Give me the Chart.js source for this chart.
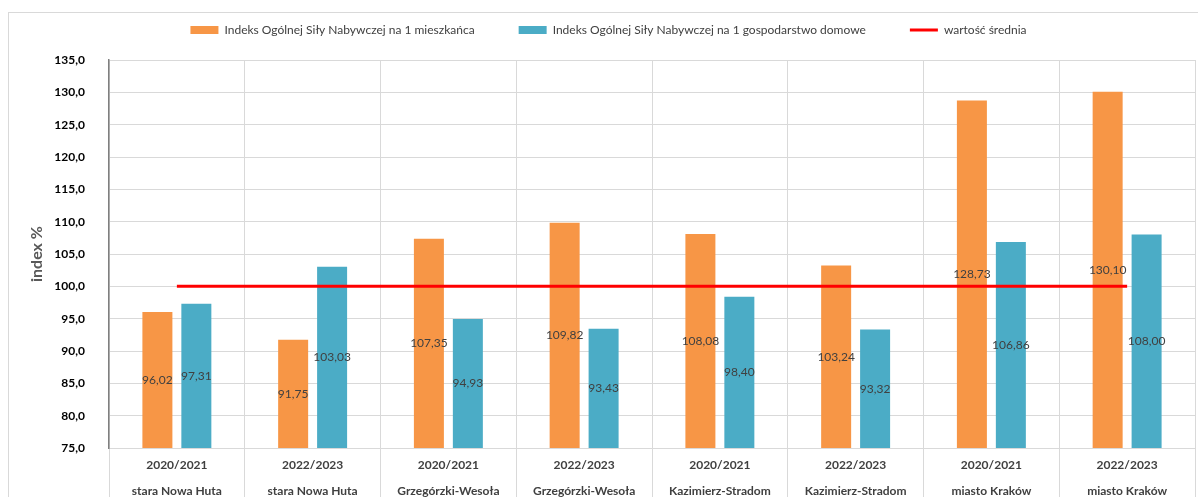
<!DOCTYPE html>
<html lang="pl">
<head>
<meta charset="utf-8">
<title>Indeks Ogólnej Siły Nabywczej</title>
<script src="https://cdn.jsdelivr.net/npm/chart.js@4.4.1/dist/chart.umd.min.js"></script>
<style>
  html, body { margin: 0; padding: 0; background: #fff; }
  .frame {
    position: absolute; left: 8px; top: 12px;
    width: 1200px; height: 500px;
    border: 1px solid #d9d9d9;
  }
  #myChart { position: absolute; left: 0; top: 0; }
</style>
</head>
<body>
<div class="frame"></div>
<canvas id="myChart" width="1198" height="497"></canvas>
<script>
const years = ["2020/2021", "2022/2023", "2020/2021", "2022/2023", "2020/2021", "2022/2023", "2020/2021", "2022/2023"];
const areas = ["stara Nowa Huta", "stara Nowa Huta", "Grzegórzki-Wesoła", "Grzegórzki-Wesoła",
               "Kazimierz-Stradom", "Kazimierz-Stradom", "miasto Kraków", "miasto Kraków"];
const perResident = [96.02, 91.75, 107.35, 109.82, 108.08, 103.24, 128.73, 130.10];
const perHousehold = [97.31, 103.03, 94.93, 93.43, 98.40, 93.32, 106.86, 108.00];
const average = [100, 100, 100, 100, 100, 100, 100, 100];

const fmt = (v, d) => v.toFixed(d).replace('.', ',');
const FONT = "Lato, 'Open Sans', sans-serif";

// value labels in the middle of the visible part of every bar
const barLabels = {
    id: 'barLabels',
    afterDatasetsDraw(chart) {
        const ctx = chart.ctx;
        const bottom = chart.chartArea.bottom;
        ctx.save();
        ctx.font = "12px " + FONT;
        ctx.fillStyle = "#404040";
        ctx.textAlign = "center";
        ctx.textBaseline = "middle";
        chart.data.datasets.forEach((ds, i) => {
            const meta = chart.getDatasetMeta(i);
            if (meta.type !== 'bar') return;
            meta.data.forEach((bar, j) => {
                const base = Math.min(bar.base, bottom);
                ctx.fillText(fmt(ds.data[j], 2), bar.x, (bar.y + base) / 2);
            });
        });
        ctx.restore();
    }
};

// extra room between the legend and the plot, legend nudged right a bit
const legendGap = {
    id: 'legendGap',
    beforeInit(chart) {
        const fit = chart.legend.fit;
        chart.legend.fit = function () {
            fit.call(this);
            this.height += 14;
        };
    },
    afterLayout(chart) {
        chart.legend.left += 11;
        chart.legend.right += 11;
    }
};

const data = {
    labels: years.map((y, i) => [y, areas[i]]),
    datasets: [
        {
            type: 'bar',
            label: "Indeks Ogólnej Siły Nabywczej na 1 mieszkańca",
            data: perResident,
            backgroundColor: "#F79646",
            pointStyle: 'rect',
            categoryPercentage: 0.574,
            barPercentage: 0.77,
            order: 1
        },
        {
            type: 'bar',
            label: "Indeks Ogólnej Siły Nabywczej na 1 gospodarstwo domowe",
            data: perHousehold,
            backgroundColor: "#4BACC6",
            pointStyle: 'rect',
            categoryPercentage: 0.574,
            barPercentage: 0.77,
            order: 1
        },
        {
            type: 'line',
            label: "wartość średnia",
            data: average,
            borderColor: "#FF0000",
            backgroundColor: "#FF0000",
            borderWidth: 3,
            pointRadius: 0,
            pointStyle: 'line',
            order: 0
        }
    ]
};

const config = {
    type: 'bar',
    data,
    options: {
        responsive: false,
        animation: false,
        layout: { padding: { top: -20, right: 3, left: 0, bottom: 0 } },
        plugins: {
            legend: {
                labels: {
                    usePointStyle: true,
                    pointStyleWidth: 28,
                    boxHeight: 8,
                    padding: 44,
                    color: "#404040",
                    font: { family: FONT, size: 12 },
                    sort: (a, b) => a.datasetIndex - b.datasetIndex
                }
            },
            tooltip: { enabled: false }
        },
        scales: {
            x: {
                grid: { offset: true, color: "#d9d9d9", tickLength: 50, tickColor: "#d9d9d9" },
                border: { color: "#d9d9d9" },
                ticks: {
                    color: "#404040",
                    padding: -45,
                    maxRotation: 0,
                    font: { family: FONT, size: 12, weight: 'bold', lineHeight: 2.1 }
                },
                afterFit(scale) { scale.height = 49; }
            },
            y: {
                min: 75,
                max: 135,
                beginAtZero: false,
                grid: { color: "#d9d9d9", drawTicks: false },
                border: { color: "#7f7f7f", width: 1.5 },
                ticks: {
                    stepSize: 5,
                    padding: 24,
                    color: "#000",
                    font: { family: FONT, size: 12, weight: 'bold' },
                    callback: v => fmt(v, 1)
                },
                title: {
                    display: true,
                    text: "index %",
                    color: "#595959",
                    padding: { top: 27, bottom: 0 },
                    font: { family: FONT, size: 16, weight: 'bold' }
                },
                afterFit(scale) { scale.width = 109; }
            }
        }
    },
    plugins: [barLabels, legendGap]
};

window.myChart = new Chart(document.getElementById("myChart"), config);
</script>
</body>
</html>
